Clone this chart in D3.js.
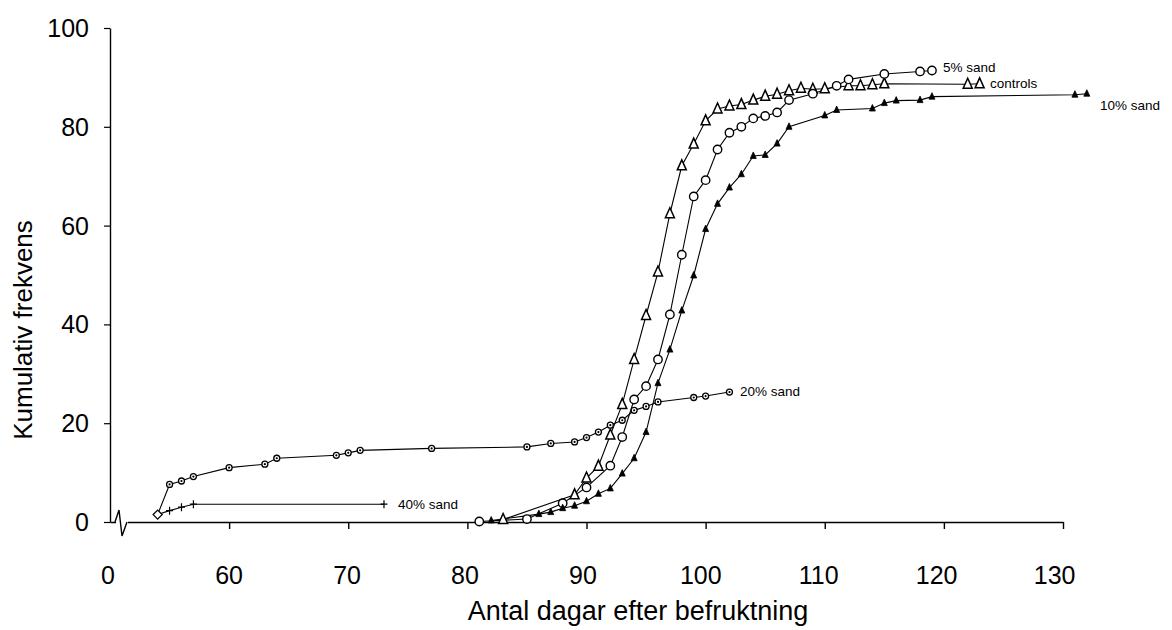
<!DOCTYPE html>
<html><head><meta charset="utf-8">
<script src="https://cdn.jsdelivr.net/npm/d3@7/dist/d3.min.js"></script>
<style>
html,body{margin:0;padding:0;background:#fff;}
svg{display:block;font-family:"Liberation Sans",Arial,Helvetica,sans-serif;}
</style></head>
<body><svg id="c" width="1172" height="630"></svg>
<script>
// ---- data ----
const xTicks = [50,60,70,80,90,100,110,120,130];
const xTickLabels = ["0","60","70","80","90","100","110","120","130"];
const yTicks = [0,20,40,60,80,100];

const ctrlDays = [83,89,90,91,92,93,94,95,96,97,98,99,100,101,102,103,104,105,106,107,108,109,110,112,113,114,115,122,123];
const ctrlVals = [0.5,5.5,8.9,11.3,17.6,23.8,32.9,41.8,50.6,62.4,72.1,76.5,81.2,83.6,84.2,84.5,85.4,86.2,86.6,87.3,87.8,87.6,87.7,88.3,88.3,88.5,88.7,88.6,88.7];

const s5Days = [81,85,88,90,92,93,94,95,96,97,98,99,100,101,102,103,104,105,106,107,109,111,112,115,118,119];
const s5Vals = [0.1,0.6,3.8,7.0,11.4,17.2,24.8,27.5,32.9,42.0,54.1,65.9,69.2,75.4,78.8,80.0,81.7,82.2,82.9,85.4,86.7,88.3,89.6,90.7,91.2,91.4];

const s10Days = [82,86,87,88,89,90,91,92,93,94,95,96,97,98,99,100,101,102,103,104,105,106,107,110,111,114,115,116,118,119,131,132];
const s10Vals = [0.3,1.6,2.0,2.8,3.3,4.2,5.7,6.8,9.8,12.9,18.2,28.1,34.9,42.8,49.9,59.3,64.4,67.7,70.4,74.1,74.3,76.6,80.0,82.3,83.4,83.7,84.8,85.3,85.4,86.1,86.5,86.7];

const s20Days = [54,55,56,57,60,63,64,69,70,71,77,85,87,89,90,91,92,93,94,95,96,99,100,102];
const s20Vals = [1.5,7.6,8.3,9.2,11.0,11.7,12.9,13.5,14.0,14.5,14.9,15.2,15.9,16.2,17.1,18.2,19.6,20.6,22.6,23.4,24.3,25.2,25.5,26.3];

const s40Days = [54,55,56,57,73];
const s40Vals = [1.5,2.3,3.0,3.6,3.6];

const seriesLabels = ["controls","5% sand","10% sand","20% sand","40% sand"];

// ---- chart ----
const svg = d3.select("#c");
const x = d3.scaleLinear().domain([50,130]).range([110,1063]);
const y = d3.scaleLinear().domain([0,100]).range([522,28]);

function pts(days, vals){ return days.map((d,i)=>[d, vals[i]]); }
const line = d3.line().x(d=>x(d[0])).y(d=>y(d[1]));

// axes
const gx = svg.append("g").attr("transform",`translate(0,${y(0)})`)
  .call(d3.axisBottom(x).tickValues(xTicks.slice(1)).tickSize(7).tickSizeOuter(0).tickFormat(""));
gx.select(".domain").attr("stroke","#000").attr("stroke-width",1.4);
gx.selectAll(".tick line").attr("stroke","#000").attr("stroke-width",1.4);

svg.append("g").selectAll("text").data(xTicks).join("text")
  .attr("x",(d,i)=>x(d)-(i===0?2:(d-60)*0.12))
  .attr("y",584).attr("text-anchor","middle")
  .attr("font-size",25).attr("fill","#000")
  .text((d,i)=>xTickLabels[i]);

const gy = svg.append("g").attr("transform",`translate(${x(50)},0)`)
  .call(d3.axisLeft(y).tickValues(yTicks).tickSize(6).tickSizeOuter(0).tickFormat(""));
gy.select(".domain").attr("stroke","#000").attr("stroke-width",1.4);
gy.selectAll(".tick line").attr("stroke","#000").attr("stroke-width",1.2);

svg.append("g").selectAll("text").data(yTicks).join("text")
  .attr("x",89).attr("y",d=>y(d)+9).attr("text-anchor","end")
  .attr("font-size",25).attr("fill","#000")
  .text(d=>d);

// axis break symbol
const bx = x(50);
svg.append("rect").attr("x",bx+6).attr("y",y(0)-2).attr("width",12).attr("height",4).attr("fill","#fff");
svg.append("path")
  .attr("d",`M${bx+5},${y(0)} L${bx+9},${y(0)-12} L${bx+12},${y(0)+14} L${bx+17},${y(0)}`)
  .attr("fill","none").attr("stroke","#000").attr("stroke-width",1.4);

// titles
svg.append("text").attr("transform","translate(32,330) rotate(-90)")
  .attr("text-anchor","middle").attr("font-size",26).attr("fill","#000")
  .text("Kumulativ frekvens");
svg.append("text").attr("x",638).attr("y",620).attr("text-anchor","middle")
  .attr("font-size",27).attr("fill","#000")
  .text("Antal dagar efter befruktning");

// series
const S = [
  {name:seriesLabels[0], data:pts(ctrlDays,ctrlVals), mk:"openTri"},
  {name:seriesLabels[1], data:pts(s5Days,s5Vals), mk:"openCirc"},
  {name:seriesLabels[2], data:pts(s10Days,s10Vals), mk:"fillTri"},
  {name:seriesLabels[3], data:pts(s20Days,s20Vals), mk:"dotCirc"},
  {name:seriesLabels[4], data:pts(s40Days,s40Vals), mk:"plus"}
];
const gl = svg.append("g");
S.forEach(s=>{
  gl.append("path").datum(s.data).attr("d",line)
    .attr("fill","none").attr("stroke","#000").attr("stroke-width",1.1);
});
const gm = svg.append("g");
S.forEach(s=>{
  const g = gm.append("g");
  s.data.forEach((d,i)=>{
    const cx=x(d[0]), cy=y(d[1]);
    if (s.mk==="openTri"){
      g.append("path").attr("d",`M${cx},${cy-6} L${cx+4.5},${cy+4} L${cx-4.5},${cy+4} Z`)
        .attr("fill","#fff").attr("stroke","#000").attr("stroke-width",1.5);
    } else if (s.mk==="openCirc"){
      g.append("circle").attr("cx",cx).attr("cy",cy).attr("r",4.2)
        .attr("fill","#fff").attr("stroke","#000").attr("stroke-width",1.4);
    } else if (s.mk==="fillTri"){
      g.append("path").attr("d",`M${cx},${cy-4} L${cx+3},${cy+2.5} L${cx-3},${cy+2.5} Z`)
        .attr("fill","#000").attr("stroke","#000").attr("stroke-width",0.8);
    } else if (s.mk==="dotCirc"){
      if (i===0){
        g.append("path").attr("d",`M${cx},${cy-4.5} L${cx+4.5},${cy} L${cx},${cy+4.5} L${cx-4.5},${cy} Z`)
          .attr("fill","#fff").attr("stroke","#000").attr("stroke-width",1.3);
      } else {
        g.append("circle").attr("cx",cx).attr("cy",cy).attr("r",3)
          .attr("fill","#fff").attr("stroke","#000").attr("stroke-width",1.3);
        g.append("circle").attr("cx",cx).attr("cy",cy).attr("r",1.1).attr("fill","#000");
      }
    } else if (s.mk==="plus"){
      if (i===0) return;
      g.append("path").attr("d",`M${cx-3.5},${cy} L${cx+3.5},${cy} M${cx},${cy-4} L${cx},${cy+4}`)
        .attr("stroke","#000").attr("stroke-width",1.2);
    }
  });
});

// series labels
const lab = svg.append("g").attr("font-size",13.5).attr("fill","#000");
lab.append("text").attr("x",943).attr("y",72).text(seriesLabels[1]);
lab.append("text").attr("x",990).attr("y",88).text(seriesLabels[0]);
lab.append("text").attr("x",1100).attr("y",110).text(seriesLabels[2]);
lab.append("text").attr("x",740).attr("y",396).text(seriesLabels[3]);
lab.append("text").attr("x",398).attr("y",509).text(seriesLabels[4]);
</script>
</body></html>
